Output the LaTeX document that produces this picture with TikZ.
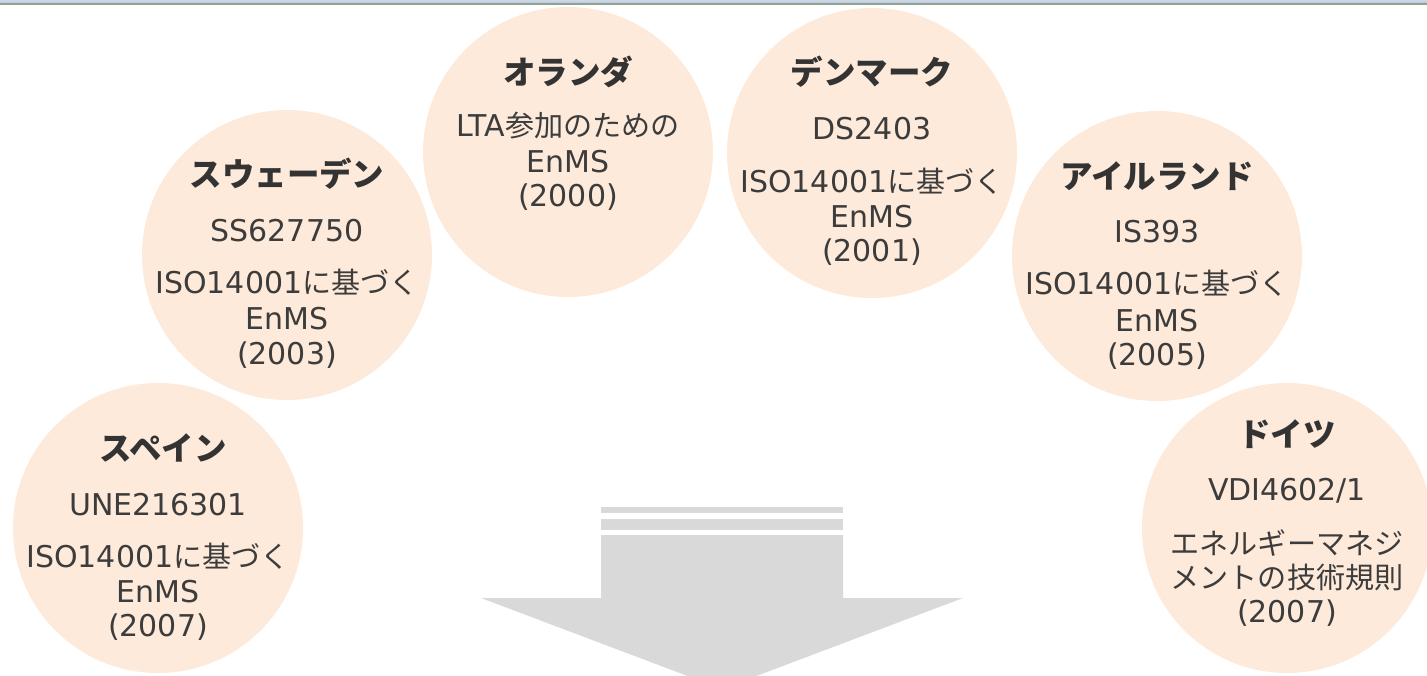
\documentclass[tikz,border=0pt]{standalone}
\usepackage{fontspec}
\setmainfont{DejaVu Sans}
\newfontfamily\jpfont[Scale=0.97]{Noto Sans CJK JP}
\newcommand{\jp}[1]{{\jpfont #1}}
\definecolor{peach}{HTML}{FDEADA}
\definecolor{arrowgray}{HTML}{D9D9D9}
\definecolor{titlegray}{HTML}{333333}
\definecolor{textgray}{HTML}{3C3C3C}
\definecolor{barblue}{HTML}{CDD6EC}
\definecolor{bargreen}{HTML}{8FA38F}

\begin{document}
\begin{tikzpicture}[x=1pt, y=-1pt,
    land/.style={circle, fill=peach, minimum size=290pt, inner sep=0pt},
    ctitle/.style={anchor=base, text=titlegray, font=\fontsize{33.5}{38}\selectfont\jpfont\bfseries},
    cline/.style={anchor=base, text=textgray, font=\fontsize{30}{35}\selectfont}]
        \clip (0,0) rectangle (1427,676);

        % Top bar
        \shade[top color=barblue, bottom color=barblue!70!bargreen] (0,0) rectangle (1427,3.5);
        \draw[bargreen, line width=1.5pt] (0,4.2) -- (1427,4.2);

        % Country circles
        \node[land] (spain) at (158,528) {};
        \node[land] (sweden) at (287,255) {};
        \node[land] (netherlands) at (568,152) {};
        \node[land] (denmark) at (872,153) {};
        \node[land] (ireland) at (1157,256) {};
        \node[land] (germany) at (1287,528) {};

        % Spain
        \node[ctitle] (spainname) at (163,460) {スペイン};
        \node[cline] (spaincode) at (158,515) {UNE216301};
        \node[cline] (spaina) at (158,567) {ISO14001\jp{に基づく}};
        \node[cline] (spainb) at (158,602) {EnMS};
        \node[cline] (spainc) at (158,636) {(2007)};

        % Sweden
        \node[ctitle] (swedenname) at (287,187) {スウェーデン};
        \node[cline] (swedencode) at (287,242) {SS627750};
        \node[cline] (swedena) at (287,294) {ISO14001\jp{に基づく}};
        \node[cline] (swedenb) at (287,330) {EnMS};
        \node[cline] (swedenc) at (287,364) {(2003)};

        % Netherlands
        \node[ctitle] (netherlandsname) at (568,85) {オランダ};
        \node[cline] (netherlandsa) at (568,137) {LTA\jp{参加のための}};
        \node[cline] (netherlandsb) at (568,173) {EnMS};
        \node[cline] (netherlandsc) at (568,207) {(2000)};

        % Denmark
        \node[ctitle] (denmarkname) at (872,85) {デンマーク};
        \node[cline] (denmarkcode) at (872,140) {DS2403};
        \node[cline] (denmarka) at (872,193) {ISO14001\jp{に基づく}};
        \node[cline] (denmarkb) at (872,228) {EnMS};
        \node[cline] (denmarkc) at (872,262) {(2001)};

        % Ireland
        \node[ctitle] (irelandname) at (1157,189) {アイルランド};
        \node[cline] (irelandcode) at (1157,243) {IS393};
        \node[cline] (irelanda) at (1157,295) {ISO14001\jp{に基づく}};
        \node[cline] (irelandb) at (1157,331) {EnMS};
        \node[cline] (irelandc) at (1157,365) {(2005)};

        % Germany
        \node[ctitle] (germanyname) at (1287,446) {ドイツ};
        \node[cline] (germanycode) at (1287,500) {VDI4602/1};
        \node[cline] (germanya) at (1287,554) {\jp{エネルギーマネジ}};
        \node[cline] (germanyb) at (1287,588) {\jp{メントの技術規則}};
        \node[cline] (germanyc) at (1287,622) {(2007)};

        % Downward arrow with stripes
        \foreach \ya/\yb in {507/513, 519/530} {
            \fill[arrowgray] (601,\ya) rectangle (843,\yb);
        }
        \fill[arrowgray] (601,535) -- (843,535) -- (843,598) -- (963,598)
            -- (722,689) -- (481,598) -- (601,598) -- cycle;
\end{tikzpicture}
\end{document}
